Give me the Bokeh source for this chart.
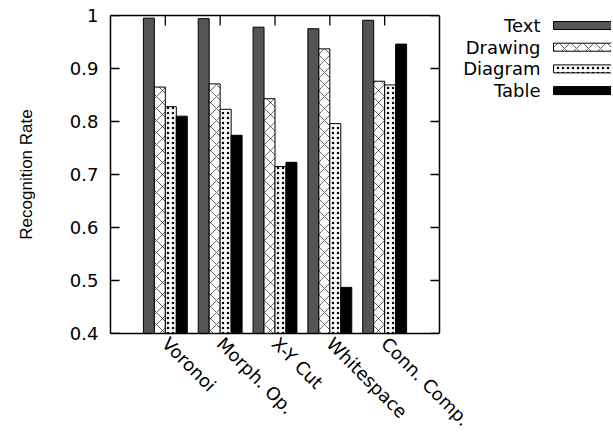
import math
from bokeh.plotting import figure
from bokeh.models import FixedTicker, Range1d, ColumnDataSource, LinearAxis, Span
from bokeh.core.properties import value
from bokeh.embed import file_html
from bokeh.resources import INLINE

methods = ["Voronoi", "Morph. Op.", "X-Y Cut", "Whitespace", "Conn. Comp."]
series = ["Text", "Drawing", "Diagram", "Table"]
text_rate = [0.995, 0.994, 0.978, 0.975, 0.991]
drawing_rate = [0.865, 0.871, 0.843, 0.937, 0.876]
diagram_rate = [0.828, 0.823, 0.715, 0.796, 0.869]
table_rate = [0.810, 0.774, 0.723, 0.487, 0.946]
y_ticks = [0.4, 0.5, 0.6, 0.7, 0.8, 0.9, 1.0]

values = [text_rate, drawing_rate, diagram_rate, table_rate]
positions = list(range(1, len(methods) + 1))
offsets = [-0.3, -0.1, 0.1, 0.3]
styles = [
    dict(fill_color="#555555"),
    dict(fill_color="white", hatch_pattern="diagonal_cross", hatch_scale=12, hatch_weight=0.6, hatch_color="black"),
    dict(fill_color="white", hatch_pattern="dot", hatch_scale=5, hatch_weight=0.7, hatch_color="black"),
    dict(fill_color="black"),
]

FONT = "DejaVu Sans"
W, H = 611, 440
FL, FT, FR, FB = 110, 15, 439, 333     # plot box in page pixels
X_MAX = 6                                # data extent of the bar area
Y_MIN, Y_MAX = 0.4, 1.0
x_end = X_MAX * (W - FL) / (FR - FL)     # frame continues to the right for the key

p = figure(width=W, height=H, output_backend="svg", toolbar_location=None,
           x_range=Range1d(0, x_end), y_range=Range1d(Y_MIN, Y_MAX),
           min_border_left=FL, min_border_top=FT, min_border_bottom=H - FB,
           min_border_right=0)
p.grid.visible = False
p.outline_line_color = None
p.background_fill_color = "white"
p.extra_x_ranges = {"px": Range1d(FL, W)}
p.extra_y_ranges = {"px": Range1d(FB, FT)}

for name, vals, off, st in zip(series, values, offsets, styles):
    src = ColumnDataSource(dict(x=[x + off for x in positions], top=vals))
    p.vbar(x="x", top="top", bottom=0, width=0.2, source=src,
           line_color="black", line_width=1, **st)

# inward tick marks at the tick values, drawn as thin bars (sizes from pixels)
px_x = X_MAX / (FR - FL)                 # one pixel in x data units
px_y = (Y_MAX - Y_MIN) / (FB - FT)       # one pixel in y data units
n = len(y_ticks)
p.hbar(y=y_ticks, left=[0] * n, right=[9 * px_x] * n, height=1.3 * px_y,
       fill_color="black", line_color=None)
p.hbar(y=y_ticks, left=[X_MAX - 9 * px_x] * n, right=[X_MAX] * n, height=1.3 * px_y,
       fill_color="black", line_color=None)
m = len(positions)
p.vbar(x=positions, bottom=[Y_MAX - 10 * px_y] * m, top=[Y_MAX] * m, width=1.3 * px_x,
       fill_color="black", line_color=None)

# right border of the plot box
p.add_layout(Span(location=X_MAX, dimension="height", line_color="black", line_width=1.5))

# bottom axis
xa = p.xaxis[0]
xa.bounds = (0, X_MAX)
xa.ticker = FixedTicker(ticks=positions)
xa.major_label_overrides = {pos: mm for pos, mm in zip(positions, methods)}
xa.major_label_orientation = -math.pi / 4
xa.major_tick_in = 0
xa.major_tick_out = 0
xa.minor_tick_line_color = None
xa.axis_line_color = "black"
xa.axis_line_width = 1.5
xa.major_label_standoff = 7
xa.major_label_text_font = FONT
xa.major_label_text_font_size = "18px"
xa.major_label_text_color = "black"

# top border
top_axis = LinearAxis(bounds=(0, X_MAX), ticker=FixedTicker(ticks=positions),
                      major_tick_in=0, major_tick_out=0, minor_tick_line_color=None,
                      axis_line_color="black", axis_line_width=1.5,
                      major_label_overrides={t: "" for t in positions})
p.add_layout(top_axis, "above")

# left axis
ya = p.yaxis[0]
ya.ticker = FixedTicker(ticks=y_ticks)
ya.major_label_overrides = {t: ("1" if t == 1.0 else f"{t:.1f}") for t in y_ticks}
ya.major_tick_in = 0
ya.major_tick_out = 0
ya.minor_tick_line_color = None
ya.axis_line_color = "black"
ya.axis_line_width = 1.5
ya.major_label_standoff = 12
ya.major_label_text_font = FONT
ya.major_label_text_font_size = "18px"
ya.major_label_text_color = "black"
ya.axis_label = "Recognition Rate"
ya.axis_label_text_font = "Liberation Sans"
ya.axis_label_text_font_size = "17px"
ya.axis_label_text_font_style = "normal"
ya.axis_label_text_color = "black"
ya.axis_label_standoff = 31

# key: names right-aligned, sample boxes to their right (page-pixel range)
KEY_TEXT_X, KEY_BOX_L, KEY_BOX_R = 540, 553, 640
KEY_ROW0, KEY_STEP, KEY_BOX_H = 25, 21.7, 4
for i, (name, st) in enumerate(zip(series, styles)):
    yc = KEY_ROW0 + i * KEY_STEP
    p.text(x=[KEY_TEXT_X], y=[yc], text=[name], text_align="right", text_baseline="middle",
           text_font=value(FONT), text_font_size="18px", text_color="black",
           x_range_name="px", y_range_name="px")
    p.quad(left=[KEY_BOX_L], right=[KEY_BOX_R], bottom=[yc + KEY_BOX_H], top=[yc - KEY_BOX_H],
           line_color="black", line_width=1, x_range_name="px", y_range_name="px", **st)

with open("out.html", "w") as f:
    f.write(file_html(p, INLINE))
